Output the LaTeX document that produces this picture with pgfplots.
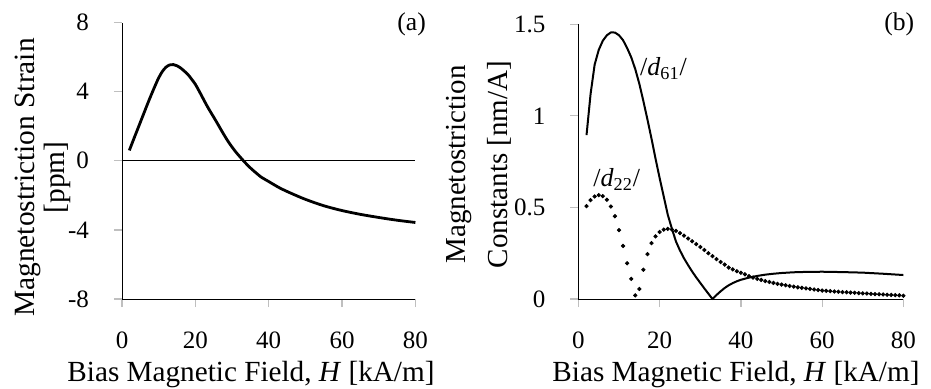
\documentclass[border=0pt]{standalone}
\usepackage{fontspec}
\setmainfont{Liberation Serif}
\usepackage{pgfplots}
\pgfplotsset{compat=1.18}
\begin{document}
\begin{tikzpicture}
\path[use as bounding box] (0,0) rectangle (465.5pt,194pt);
\pgfplotsset{
 myax/.style={
  scale only axis, anchor=south west,
  axis lines*=left,
  axis line style={-, black, line width=0.5pt},
  tick pos=left,
  xmin=0, xmax=80, xtick={0,20,40,60,80}, xticklabels={0,20,40,60,80},
  tick align=outside,
  major tick length=4pt,
  tick style={color=black!25, line width=0.6pt},
  ticklabel style={font=\fontsize{12.5}{14}\selectfont},
  xticklabel style={anchor=base, yshift=-20.5pt},
  yticklabel style={anchor=east, inner sep=0pt, xshift=-12.3pt},
  clip=false,
 }}
% (a)
\begin{axis}[myax, at={(61pt,44.5pt)}, width=146.7pt, height=138.2pt,
  ymin=-8, ymax=8, ytick={-8,-4,0,4,8}, yticklabels={-8,-4,0,4,8}]
\addplot[black, line width=0.5pt] coordinates {(0,0) (80,0)};
\addplot[black, line width=1.4pt, smooth, line join=round] coordinates {
(2,0.6) (3,1.15) (4,1.69) (5,2.23) (6,2.77) (7,3.31) (8,3.83) (9,4.33) (10,4.8)
(11,5.17) (12,5.42) (13,5.55) (14,5.57) (15,5.5) (16,5.37) (17,5.19) (18,4.99)
(19,4.72) (20,4.43) (21,4.05) (22,3.65) (23,3.25) (24,2.88) (25,2.53) (26,2.17)
(27,1.8) (28,1.44) (29,1.1) (30,0.8) (31,0.52) (32,0.27) (33,0.03) (34,-0.2)
(35,-0.41) (36,-0.6) (37,-0.78) (38,-0.95) (40,-1.2) (43,-1.57) (46,-1.87)
(50,-2.23) (55,-2.6) (60,-2.88) (65,-3.1) (70,-3.28) (75,-3.44) (80,-3.57)};
\end{axis}
% (b)
\begin{axis}[myax, at={(289.2pt,44.5pt)}, width=162.5pt, height=137.35pt,
  ymin=0, ymax=1.5, ytick={0,0.5,1,1.5}, yticklabels={0,0.5,1,1.5}]
\addplot[black, line width=1pt, line join=round] coordinates {
(2,0.895) (3,1.12) (4,1.28) (5,1.36) (6,1.41) (7,1.44) (8,1.456) (9,1.455)
(10,1.44) (11,1.413) (12,1.37) (13,1.32) (14,1.255) (15,1.175) (16,1.08)
(17,0.98) (18,0.875) (19,0.765) (20,0.66) (21,0.56) (22,0.46) (23,0.385)
(24,0.315) (25,0.265) (26,0.222) (27,0.185) (28,0.15) (29,0.118) (30,0.088)
(31,0.058) (32,0.029) (33,0.0) (34,0.022) (35,0.042) (36,0.06) (37,0.075)
(38,0.087) (39,0.097) (40,0.105) (42,0.117) (44,0.126) (46,0.133) (48,0.138)
(50,0.142) (53,0.146) (56,0.148) (60,0.149) (65,0.147) (70,0.144) (75,0.138)
(80,0.131)};
\addplot[only marks, mark=*, mark size=0.85pt, black] coordinates {
(2,0.507) (3,0.54) (4,0.56) (5,0.567) (6,0.562) (7,0.542) (8,0.505) (9,0.452)
(10,0.376) (11,0.29) (12,0.195) (13,0.11) (14,0.02) (15,0.055) (16,0.16)
(17,0.245) (18,0.305) (19,0.342) (20,0.366) (21,0.379) (22,0.383) (23,0.38)
(24,0.372) (25,0.36) (26,0.346) (27,0.33) (28,0.315) (29,0.3) (30,0.284)
(31,0.268) (32,0.25) (33,0.234) (34,0.218) (35,0.202) (36,0.188) (37,0.172)
(38,0.162) (39,0.152) (40,0.143) (41,0.135) (42,0.125) (43,0.117) (44,0.11)
(45,0.104) (46,0.098) (47,0.093) (48,0.088) (49,0.083) (50,0.079) (51,0.075)
(52,0.071) (53,0.068) (54,0.064) (55,0.061) (56,0.058) (57,0.055) (58,0.052)
(59,0.049) (60,0.046) (61,0.045) (62,0.043) (63,0.041) (64,0.04) (65,0.038)
(66,0.037) (67,0.035) (68,0.034) (69,0.032) (70,0.031) (71,0.03) (72,0.028)
(73,0.027) (74,0.026) (75,0.025) (76,0.023) (77,0.022) (78,0.021) (79,0.02)
(80,0.018)};
\node[anchor=base west, inner sep=0pt, font=\fontsize{13}{15}\selectfont] at (axis cs:15.1,1.222) {/\textit{d}\textsubscript{61}/};
\node[anchor=base west, inner sep=0pt, font=\fontsize{13}{15}\selectfont] at (axis cs:3.6,0.612) {/\textit{d}\textsubscript{22}/};
\end{axis}
% labels
\node[anchor=base, inner sep=0pt, font=\fontsize{14.6}{16}\selectfont] at (125.5pt,3.5pt) {Bias Magnetic Field, \textit{H} [kA/m]};
\node[anchor=base, inner sep=0pt, font=\fontsize{14.6}{16}\selectfont] at (368pt,3.5pt) {Bias Magnetic Field, \textit{H} [kA/m]};
\node[rotate=90, anchor=south, inner sep=0pt, align=center, font=\fontsize{14.7}{15}\selectfont] at (35.8pt,105.25pt) {Magnetostriction Strain\\{}[ppm]};
\node[rotate=90, anchor=south, inner sep=0pt, align=center, font=\fontsize{14.5}{21}\selectfont] at (255.8pt,111.75pt) {Magnetostriction\\Constants [nm/A]};
\node[anchor=base, inner sep=0pt, font=\fontsize{12.8}{15}\selectfont] at (205.8pt,179pt) {(a)};
\node[anchor=base, inner sep=0pt, font=\fontsize{12.8}{15}\selectfont] at (449.6pt,179pt) {(b)};
\end{tikzpicture}
\end{document}
